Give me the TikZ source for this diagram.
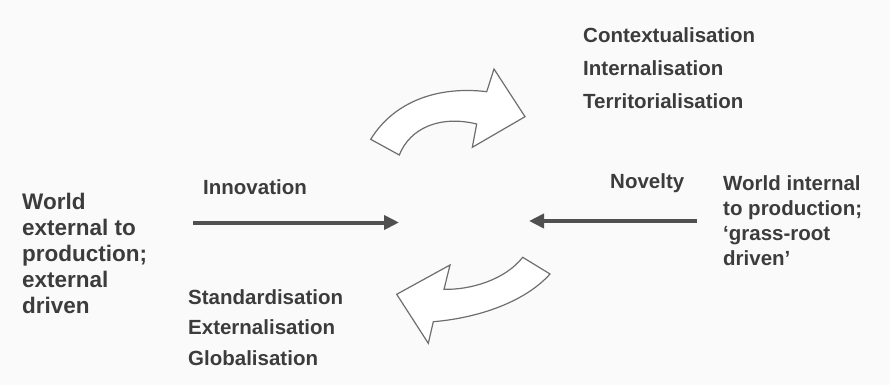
\documentclass[tikz,border=0pt]{standalone}
\usepackage{fontspec}
\setmainfont{Liberation Sans}
\usetikzlibrary{arrows.meta}
\definecolor{inkgray}{HTML}{3C3C3C}
\definecolor{shaftgray}{HTML}{505050}
\definecolor{outlinegray}{HTML}{6E6E6E}
\definecolor{paper}{HTML}{FAFAFA}
\begin{document}
\begin{tikzpicture}[x=1pt,y=-1pt,
  lbl/.style={anchor=base west,inner sep=0pt,text=inkgray,
    font=\fontsize{20.5}{25}\selectfont\bfseries},
  biglbl/.style={lbl,font=\fontsize{22.5}{26}\selectfont\bfseries},
  flow/.style={draw=shaftgray,line width=4pt,
    -{Triangle[length=15pt,width=14pt]}},
  curvedarrow/.style={draw=outlinegray,line width=1.2pt,fill=white,line join=miter}]
\fill[paper] (0,0) rectangle (890,385);
\useasboundingbox (0,0) rectangle (890,385);

% upper curved arrow (outline)
\path[curvedarrow] (370.7,139.3) -- (399.3,155)
  .. controls (410,128) and (440,115) .. (476.7,124)
  -- (472.3,147.3) -- (525,116.7) -- (494,69) -- (486.7,91.7)
  .. controls (440,86) and (395,100) .. cycle;

% lower curved arrow (outline)
\path[curvedarrow] (522.7,257.3) -- (550,274)
  .. controls (525,302) and (478,318) .. (433.3,321.7)
  -- (428.3,343.3) -- (396.7,294.3) -- (450,265) -- (444,289.3)
  .. controls (470,290) and (505,280) .. cycle;

% labels above the upper arrow
\node[lbl] (ctx) at (583,43) {Contextualisation};
\node[lbl] (int) at (583,76) {Internalisation};
\node[lbl] (ter) at (583,108) {Territorialisation};

% labels below the lower arrow
\node[lbl] (std) at (188,304) {Standardisation};
\node[lbl] (ext) at (188,334) {Externalisation};
\node[lbl] (glo) at (188,365) {Globalisation};

% left block
\node[biglbl,align=left,anchor=north west] (left) at (22,193)
  {World\\external to\\production;\\external\\driven};

% right block
\node[lbl,align=left,anchor=north west] (right) at (723,175)
  {World internal\\to production;\\`grass-root\\driven'};

% horizontal arrows and their labels
\node[lbl] (inno) at (203,194) {Innovation};
\node[lbl] (nov) at (610,188) {Novelty};
\coordinate (iA) at (193,222.5);
\coordinate (iB) at (399,222.5);
\coordinate (nA) at (697,221);
\coordinate (nB) at (529,221);
\draw[flow] (iA) -- (iB);
\draw[flow] (nA) -- (nB);
\end{tikzpicture}
\end{document}
